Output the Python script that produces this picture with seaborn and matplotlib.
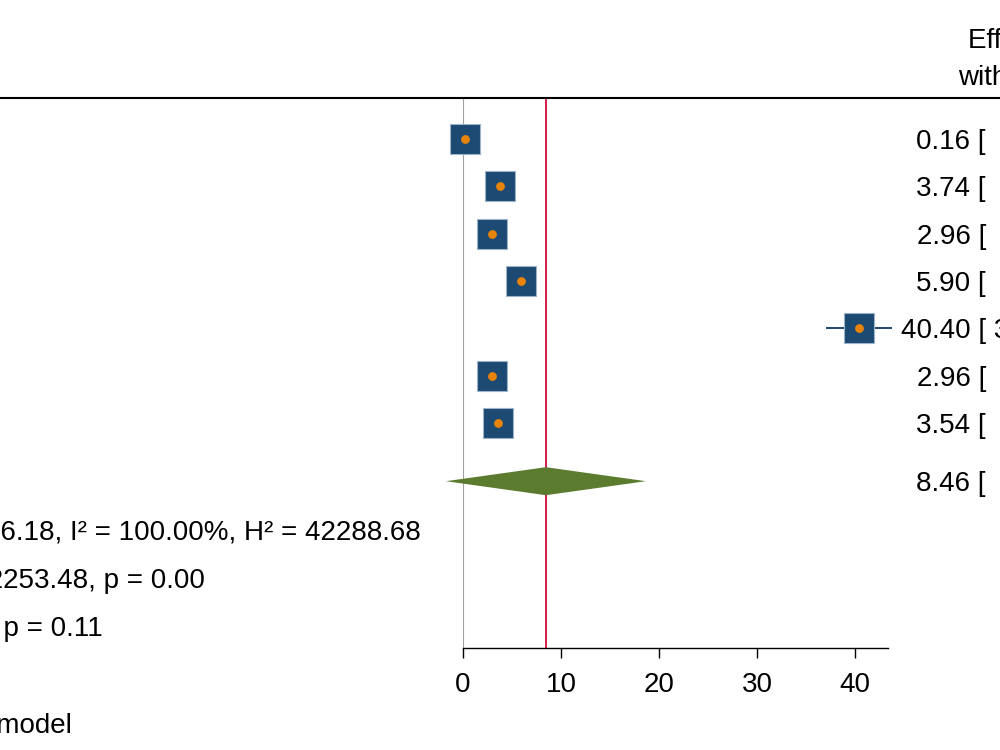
import pandas as pd
import seaborn as sns
import matplotlib.pyplot as plt
from matplotlib.lines import Line2D
from matplotlib import transforms

sns.set_theme(style="white")
plt.rcParams["font.family"] = ["Liberation Sans", "DejaVu Sans"]
plt.rcParams["text.color"] = "black"
plt.rcParams["xtick.color"] = "black"
plt.rcParams["xtick.labelcolor"] = "black"

# données
lignes = [1, 2, 3, 4, 5, 6, 7]
effets = [0.16, 3.74, 2.96, 5.90, 40.40, 2.96, 3.54]
bas = [0.13, 3.55, 2.80, 5.60, 37.05, 2.81, 3.37]
haut = [0.19, 3.93, 3.12, 6.20, 43.75, 3.11, 3.71]
ligne_global = 8.23
effet_global = 8.46
bas_global = -1.74
haut_global = 18.66
graduations = [0, 10, 20, 30, 40]
entete = ["Effect size", "with 95% CI"]
stats = ["Heterogeneity: τ² = 196.18, I² = 100.00%, H² = 42288.68",
         "Test of θi = θj: Q(6) = 42253.48, p = 0.00",
         "Test of θ = 0: z = 1.60, p = 0.11"]
modele = "Random-effects REML model"

bleu = "#1C4A72"
orange = "#E8830A"
vert = "#5B7B2F"
rouge = "#D81E4C"
fs = 20

df = pd.DataFrame({"ligne": lignes, "effet": effets, "bas": bas, "haut": haut})

fig = plt.figure(figsize=(10, 7.5), dpi=100)
ax = fig.add_axes([0.463, 1 - 648 / 750, 0.425, 550 / 750])
ax.set_xlim(0, 425 / 9.8)
ax.set_ylim(1 + 509 / 47.33, 1 - 41 / 47.33)

# lignes verticales : nulle et effet global
ax.axvline(0, color="#A0A0A0", lw=1.5, zorder=1)
ax.axvline(effet_global, color=rouge, lw=1.4, zorder=1)

# intervalles de confiance
ax.hlines(df["ligne"], df["bas"], df["haut"], color=bleu, lw=1.4, zorder=2, clip_on=False)
sns.scatterplot(data=df, x="effet", y="ligne", marker="s", s=21.5 ** 2, color=bleu,
                edgecolor="#9DB3C8", linewidth=0.8, ax=ax, zorder=3, clip_on=False)
sns.scatterplot(data=df, x="effet", y="ligne", marker="o", s=40, color=orange,
                linewidth=0, ax=ax, zorder=4, clip_on=False)

# losange global
h = 0.296
ax.fill([bas_global, effet_global, haut_global, effet_global],
        [ligne_global, ligne_global - h, ligne_global, ligne_global + h],
        color=vert, lw=0, zorder=3, clip_on=False)

for sp in ["top", "left", "right"]:
    ax.spines[sp].set_visible(False)
ax.spines["bottom"].set_color("black")
ax.spines["bottom"].set_linewidth(1.0)
ax.set_xticks(graduations)
ax.set_xticklabels([str(t) for t in graduations], fontsize=fs)
ax.tick_params(axis="x", direction="out", length=7, width=1, color="black", pad=10, bottom=True)
ax.set_yticks([])
ax.set_xlabel("")
ax.set_ylabel("")

tr = transforms.offset_copy(transforms.blended_transform_factory(fig.transFigure, ax.transData),
                            fig=fig, x=0, y=-3, units="dots")
trf = transforms.offset_copy(fig.transFigure, fig=fig, x=0, y=-3, units="dots")

# colonne de droite
for i, r in df.iterrows():
    fig.text(0.986, r["ligne"], f"{r['effet']:.2f} [", transform=tr, ha="right", va="center", fontsize=fs)
    reste = f"{r['bas']:.2f}, {r['haut']:.2f}]"
    fig.text(0.986, r["ligne"], (" " if r["bas"] >= 10 else "  ") + reste,
             transform=tr, ha="left", va="center", fontsize=fs)
fig.text(0.986, ligne_global, f"{effet_global:.2f} [", transform=tr, ha="right", va="center", fontsize=fs)
fig.text(0.986, ligne_global, f"  {bas_global:.2f}, {haut_global:.2f}]", transform=tr,
         ha="left", va="center", fontsize=fs)

# entête
fig.text(1.032, 1 - 38 / 750, entete[0], transform=trf, ha="center", va="center", fontsize=fs)
fig.text(1.032, 1 - 75 / 750, entete[1], transform=trf, ha="center", va="center", fontsize=fs)
fig.add_artist(Line2D([0, 1], [1 - 98 / 750] * 2, color="black", lw=1.5, transform=fig.transFigure))

# statistiques à gauche
fins = [0.421, 0.205, 0.103]
for y, s, xf in zip([9.26, 10.27, 11.29], stats, fins):
    fig.text(xf, y, s, transform=tr, ha="right", va="center", fontsize=fs)
fig.text(0.072, 1 - 723 / 750, modele, transform=trf, ha="right", va="center", fontsize=fs)

fig.savefig("out.png", dpi=100)
